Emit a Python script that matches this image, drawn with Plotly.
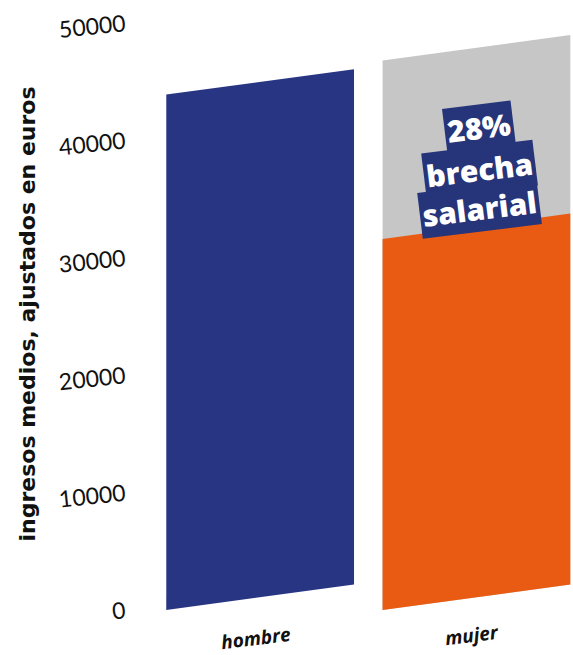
import plotly.graph_objects as go

# ---- data ----
categorias = ["hombre", "mujer"]
ingresos = [43900, 31600]          # ingresos medios ajustados (euros)
tope_gris = [None, 46800]          # caja gris de referencia sobre la barra de mujer
ticks_y = [0, 10000, 20000, 30000, 40000, 50000]
etiqueta_brecha = ["28%", "brecha", "salarial"]

# ---- style ----
NAVY = "#283583"
ORANGE = "#E95B13"
GRAY = "#C6C6C6"
LABEL_BG = "#263479"
HALF_W = 0.434      # half bar width in category units
SKEW = 2170         # vertical rise of the right edge (y units)
FONT = "Lato"

def skewed(xc, y0, y1):
    xs = [xc - HALF_W, xc + HALF_W, xc + HALF_W, xc - HALF_W, xc - HALF_W]
    ys = [y0, y0 + SKEW, y1 + SKEW, y1, y0]
    return xs, ys

fig = go.Figure()
colors = [NAVY, ORANGE]
for i, (cat, val) in enumerate(zip(categorias, ingresos)):
    if tope_gris[i] is not None:
        xs, ys = skewed(i, 0, tope_gris[i])
        fig.add_trace(go.Scatter(x=xs, y=ys, fill="toself", fillcolor=GRAY,
                                 mode="lines", line=dict(width=0), hoverinfo="skip",
                                 showlegend=False))
    xs, ys = skewed(i, 0, val)
    fig.add_trace(go.Scatter(x=xs, y=ys, fill="toself", fillcolor=colors[i],
                             mode="lines", line=dict(width=0), name=cat,
                             showlegend=False))

# brecha labels
label_y = [41140, 37560, 34240]
for txt, yy in zip(etiqueta_brecha, label_y):
    fig.add_annotation(x=1, y=yy, xref="x", yref="y", text=txt, showarrow=False,
                       textangle=-7, bgcolor=LABEL_BG, borderpad=2, xshift=3,
                       font=dict(family="Open Sans", size=30, color="white", weight=800))

# category labels (rotated, centred under each bar)
cat_yshift = [-10, -7]
for i, cat in enumerate(categorias):
    fig.add_annotation(x=i, y=0, xref="x", yref="paper", text=cat, showarrow=False,
                       textangle=-7, xshift=-4, yshift=cat_yshift[i], yanchor="middle",
                       borderpad=0,
                       font=dict(family="Open Sans", size=19, color="#111111",
                                 weight="bold", style="italic"))

fig.update_layout(
    width=573, height=655,
    margin=dict(l=152, r=0, t=0, b=27),
    plot_bgcolor="white", paper_bgcolor="white",
    xaxis=dict(range=[-0.5, 1.4464], tickvals=[0, 1], showticklabels=False,
               showgrid=False, zeroline=False, showline=False, ticks="",
               automargin=False),
    yaxis=dict(range=[-1533, 51960], tickvals=ticks_y,
               ticktext=[str(t) for t in ticks_y],
               showgrid=False, zeroline=False, showline=False, ticks="",
               tickangle=-6, ticklabelstandoff=26, automargin=False,
               tickfont=dict(family=FONT, size=23, color="#111111"),
               title=dict(text="ingresos medios, ajustados en euros",
                          font=dict(family="DejaVu Sans", size=22, color="#111111",
                                    weight="bold"),
                          standoff=15)),
)

fig.write_html("out.html", post_script="document.body.style.margin='0';",
               config={"displayModeBar": False})
